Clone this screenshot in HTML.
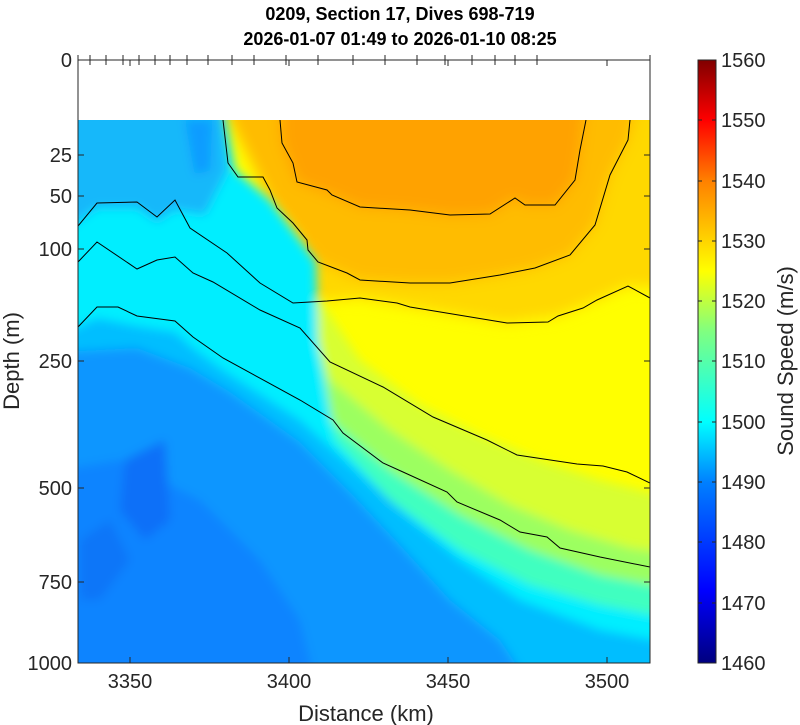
<!DOCTYPE html>
<html><head><style>
html,body{margin:0;padding:0;background:#fff;}
svg{display:block;font-family:"Liberation Sans",Arial,sans-serif;}
</style></head><body>
<svg width="800" height="725" viewBox="0 0 800 725" xmlns="http://www.w3.org/2000/svg">
<defs>
<clipPath id="dc"><rect x="78" y="120" width="572" height="543"/></clipPath>
<filter id="bl" x="-10%" y="-10%" width="120%" height="120%"><feGaussianBlur stdDeviation="7"/></filter>
<filter id="bl2" x="-10%" y="-10%" width="120%" height="120%"><feGaussianBlur stdDeviation="5"/></filter>
<linearGradient id="cb" x1="0" y1="1" x2="0" y2="0">
<stop offset="0" stop-color="#00007f"/><stop offset="0.12" stop-color="#0000ff"/><stop offset="0.3" stop-color="#0080ff"/>
<stop offset="0.4" stop-color="#00ffff"/><stop offset="0.55" stop-color="#80ff80"/><stop offset="0.65" stop-color="#ffff00"/>
<stop offset="0.8" stop-color="#ff8000"/><stop offset="0.9" stop-color="#ff0000"/><stop offset="1" stop-color="#800000"/>
</linearGradient>
</defs>
<text x="400" y="20" text-anchor="middle" font-size="18" font-weight="bold">0209, Section 17, Dives 698-719</text>
<text x="400" y="45" text-anchor="middle" font-size="18" font-weight="bold">2026-01-07 01:49 to 2026-01-10 08:25</text>
<g clip-path="url(#dc)">
<rect x="60" y="100" width="610" height="580" fill="#ffff00"/>
<g filter="url(#bl)">
<polygon points="220,100 680,100 680,290 628,286 597,300 558,316 507,323 410,307 360,298 327,301 300,302 300,240" fill="#ffd800"/>
<polygon points="220,100 640,100 628,140 610,175 595,225 570,255 535,268 500,275 450,283 410,283 360,280 318,262 300,240 270,200" fill="#ffbc00"/>
<polygon points="280,100 586,100 580,150 575,180 555,205 525,205 515,198 490,214 450,215 410,210 360,207 332,195 297,182 282,143" fill="#ffa200"/>
</g>
<g filter="url(#bl2)">
<polygon points="60,700 60,300 300,300 320,300 360,360 420,405 480,435 540,460 600,480 680,500 680,700" fill="#d8ff30"/>
<polygon points="60,700 60,320 310,320 330,380 390,430 450,470 510,505 570,530 630,548 680,555 680,700" fill="#9cff60"/>
<polygon points="60,700 60,330 305,330 330,420 390,470 460,515 530,550 600,575 680,590 680,700" fill="#40ffc0"/>
<polygon points="60,100 222,100 235,170 270,200 300,240 316,262 318,340 335,440 390,500 460,550 530,585 600,605 680,620 680,700 60,700" fill="#00eeff"/>
<polygon points="60,335 97,318 137,326 175,332 193,348 223,370 300,420 350,465 400,510 460,560 520,600 600,630 680,645 680,700 60,700" fill="#00beff"/>
<polygon points="60,352 137,348 190,368 230,392 300,442 350,492 400,545 450,600 500,640 540,700 60,700" fill="#0a96ff"/>
<polygon points="60,100 222,100 228,170 205,215 175,210 157,222 137,208 97,208 60,235" fill="#14b8fa"/>
<polygon points="185,120 212,120 210,170 195,175" fill="#0a9cff"/>
<polygon points="60,470 120,460 200,500 260,560 300,620 320,700 60,700" fill="#0a84ff"/>
<polygon points="125,460 165,440 170,520 145,540 120,510" fill="#0a70f8"/>
<polygon points="80,540 110,520 130,560 100,600 80,600" fill="#0a76f8"/>
</g>
<g fill="none" stroke="#000" stroke-width="1">
<polyline points="280,120 282,143 293,163 297,182 327,190 332,195 360,207 410,210 450,215 490,214 515,198 525,205 555,205 575,180 580,150 586,120"/>
<polyline points="223,120 228,163 238,177 263,177 270,190 277,208 293,223 307,240 308,250 318,262 347,273 360,280 410,283 450,283 500,275 535,268 570,255 595,225 610,175 628,140 630,120"/>
<polyline points="78,226 97,203 137,202 157,217 175,200 190,228 227,253 260,283 293,303 327,301 360,298 397,303 410,307 507,323 548,322 558,316 583,308 597,300 628,286 650,298"/>
<polyline points="78,262 97,242 137,269 157,260 175,257 193,273 213,282 260,310 300,328 330,362 383,387 433,417 487,440 517,455 577,464 603,466 627,472 650,483"/>
<polyline points="78,327 97,307 118,307 137,316 175,321 193,337 223,358 300,400 333,420 343,433 383,463 403,472 447,492 457,502 500,520 520,532 547,537 560,548 600,557 650,567"/>
</g>
</g>
<rect x="78" y="60" width="572" height="603" fill="none" stroke="#262626" stroke-width="1"/>
<g stroke="#262626" stroke-width="1">
<line x1="78" y1="155" x2="84" y2="155"/><line x1="78" y1="196" x2="84" y2="196"/><line x1="78" y1="249" x2="84" y2="249"/>
<line x1="78" y1="361" x2="84" y2="361"/><line x1="78" y1="488" x2="84" y2="488"/><line x1="78" y1="582" x2="84" y2="582"/>
<line x1="650" y1="155" x2="644" y2="155"/><line x1="650" y1="196" x2="644" y2="196"/><line x1="650" y1="249" x2="644" y2="249"/>
<line x1="650" y1="361" x2="644" y2="361"/><line x1="650" y1="488" x2="644" y2="488"/><line x1="650" y1="582" x2="644" y2="582"/>
<line x1="130" y1="663" x2="130" y2="657"/><line x1="289" y1="663" x2="289" y2="657"/><line x1="448" y1="663" x2="448" y2="657"/><line x1="607" y1="663" x2="607" y2="657"/>
<line x1="130" y1="60" x2="130" y2="66"/><line x1="289" y1="60" x2="289" y2="66"/><line x1="448" y1="60" x2="448" y2="66"/><line x1="607" y1="60" x2="607" y2="66"/>
<path d="M90,55v10M106,55v10M123,55v10M139,55v10M155,55v10M170,55v10M187,55v10M208,55v10M232,55v10M254,55v10M286,55v10M318,55v10M353,55v10M385,55v10M417,55v10M445,55v10M472,55v10M495,55v10M515,55v10M537,55v10M650,55v10M78,55v10"/>
</g>
<g font-size="20" fill="#262626" text-anchor="end">
<text x="72" y="67">0</text><text x="72" y="162">25</text><text x="72" y="203">50</text><text x="72" y="256">100</text>
<text x="72" y="368">250</text><text x="72" y="495">500</text><text x="72" y="589">750</text><text x="72" y="670">1000</text>
</g>
<g font-size="20" fill="#262626" text-anchor="middle">
<text x="130" y="688">3350</text><text x="289" y="688">3400</text><text x="448" y="688">3450</text><text x="607" y="688">3500</text>
<text x="366" y="721" font-size="22">Distance (km)</text>
</g>
<text transform="translate(19,361) rotate(-90)" text-anchor="middle" font-size="22" fill="#262626">Depth (m)</text>
<rect x="698" y="60" width="18" height="603" fill="url(#cb)" stroke="#262626" stroke-width="1"/>
<g stroke="#262626" stroke-width="1">
<path d="M698,120h4M698,181h4M698,241h4M698,301h4M698,361h4M698,422h4M698,482h4M698,542h4M698,603h4M716,120h-4M716,181h-4M716,241h-4M716,301h-4M716,361h-4M716,422h-4M716,482h-4M716,542h-4M716,603h-4"/>
</g>
<g font-size="20" fill="#262626">
<text x="721" y="67">1560</text><text x="721" y="127">1550</text><text x="721" y="188">1540</text><text x="721" y="248">1530</text>
<text x="721" y="308">1520</text><text x="721" y="368">1510</text><text x="721" y="429">1500</text><text x="721" y="489">1490</text>
<text x="721" y="549">1480</text><text x="721" y="610">1470</text><text x="721" y="670">1460</text>
</g>
<text transform="translate(793,361) rotate(-90)" text-anchor="middle" font-size="22" fill="#262626">Sound Speed (m/s)</text>
</svg>
</body></html>
